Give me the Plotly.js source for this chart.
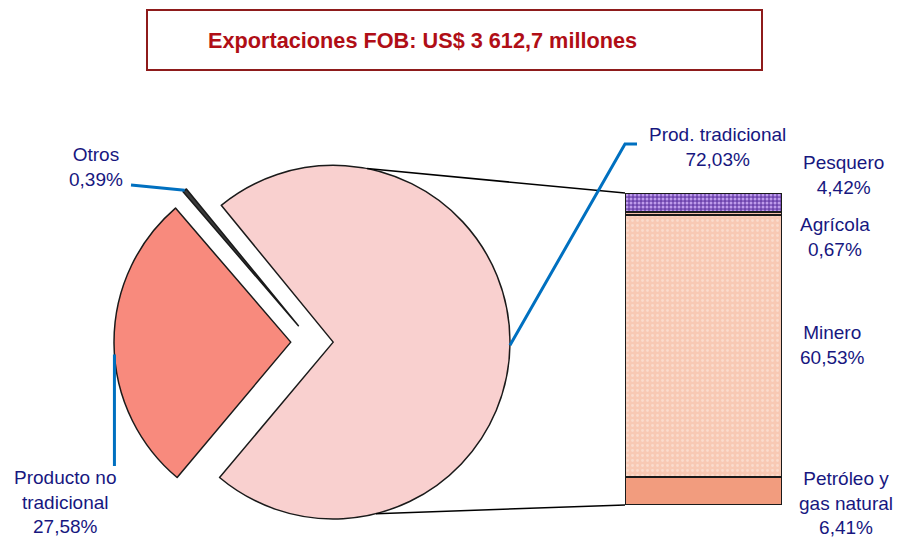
<!DOCTYPE html>
<html>
<head>
<meta charset="utf-8">
<script src="https://cdn.plot.ly/plotly-3.0.1.min.js"></script>
<style>
  html, body { margin: 0; padding: 0; background: #fff; }
  #grafico { width: 900px; height: 540px; }
</style>
</head>
<body>
<div id="grafico"></div>
<script>
const titulo = 'Exportaciones FOB: US$ 3 612,7 millones';
const pieNombres = ['Prod. tradicional', 'Producto no<br>tradicional', 'Otros'];
const pieValores = [72.03, 27.58, 0.39];
const barNombres = ['Petróleo y<br>gas natural', 'Minero', 'Agrícola', 'Pesquero'];
const barValores = [6.41, 60.53, 0.67, 4.42];

const W = 900, H = 540;
function px(x){ return Math.min(1, Math.max(0, x / W)); }
function py(y){ return Math.min(1, Math.max(0, 1 - y / H)); }
function pct(v){ return v.toFixed(2).replace('.', ',') + '%'; }

// geometria del pie (en px)
const cx = 312, cy = 342, semi = 198;
const pull = [0.12, 0.12, 0.12];
const rot = -39.3;
const maxPull = Math.max(...pull);
const r = semi / (1 + maxPull);
const total = pieValores.reduce((a, b) => a + b, 0);

let ang = rot;
const mid = [];
pieValores.forEach(v => { let a = v / total * 360; mid.push(ang + a / 2); ang += a; });
function centro(i){
    let a = mid[i] * Math.PI / 180;
    return [cx + pull[i] * r * Math.sin(a), cy - pull[i] * r * Math.cos(a)];
}
function borde(i, deg){
    let c = centro(i);
    let a = deg * Math.PI / 180;
    return [c[0] + r * Math.sin(a), c[1] - r * Math.cos(a)];
}

// barra (en px)
const bx0 = 625, bx1 = 782, byTop = 193, byBot = 505;
const barTotal = barValores.reduce((a, b) => a + b, 0);

const barColores = ['#F29C7E', '#F8C9B4', '#F6C0AA', '#6E44AE'];
const barPatrones = [
    {shape: ''},
    {shape: '.', fgcolor: '#FBDCCD', bgcolor: '#F8C9B4', size: 5, solidity: 0.25},
    {shape: ''},
    {shape: '.', fgcolor: '#BE9BEB', bgcolor: '#6E44AE', size: 4, solidity: 0.45}
];

const data = [{
    type: 'pie',
    labels: pieNombres,
    values: pieValores,
    sort: false,
    direction: 'clockwise',
    rotation: rot,
    pull: pull,
    textinfo: 'none',
    hoverinfo: 'label+percent',
    marker: {colors: ['#F9D0CF', '#F88A7D', '#3A3A3A'], line: {color: '#1a1a1a', width: 1.5}},
    domain: {x: [px(cx - semi), px(cx + semi)], y: [py(cy + semi), py(cy - semi)]},
    showlegend: false
}];

barValores.forEach((v, i) => {
    data.push({
        type: 'bar',
        x: [0],
        y: [v],
        name: barNombres[i],
        width: 1,
        marker: {color: barColores[i], line: {color: '#1a1a1a', width: 2}, pattern: barPatrones[i]},
        hoverinfo: 'name+y',
        showlegend: false
    });
});

// lineas de union pie -> barra
const pTop = borde(0, 11);
const pBot = borde(0, 166);
const azul = '#0070C0';
const pDer = borde(0, 91);
const pOtros = borde(2, mid[2]);
const pNoTrad = borde(1, 266);

function path(pts){
    return pts.map((p, k) => (k ? 'L' : 'M') + px(p[0]) + ',' + py(p[1])).join(' ');
}

const shapes = [
    {type: 'rect', xref: 'paper', yref: 'paper', x0: px(147), x1: px(762), y0: py(70), y1: py(10),
     line: {color: '#8E1B1B', width: 2}, fillcolor: 'rgba(0,0,0,0)'},
    {type: 'line', xref: 'paper', yref: 'paper', x0: px(pTop[0]), y0: py(pTop[1]), x1: px(bx0), y1: py(byTop),
     line: {color: '#000', width: 1.5}},
    {type: 'line', xref: 'paper', yref: 'paper', x0: px(pBot[0]), y0: py(pBot[1]), x1: px(bx0), y1: py(byBot),
     line: {color: '#000', width: 1.5}},
    {type: 'path', xref: 'paper', yref: 'paper', path: path([pDer, [625, 144], [637, 144]]),
     line: {color: azul, width: 3}},
    {type: 'path', xref: 'paper', yref: 'paper', path: path([pOtros, [131, 185]]),
     line: {color: azul, width: 3}},
    {type: 'path', xref: 'paper', yref: 'paper', path: path([pNoTrad, [pNoTrad[0], 466]]),
     line: {color: azul, width: 3}}
];

const fuente = {family: 'Liberation Sans, Arial, sans-serif', size: 19, color: '#17177F'};
function etiqueta(texto, x, y){
    return {text: texto, xref: 'paper', yref: 'paper', x: px(x), y: py(y),
            xanchor: 'center', yanchor: 'middle', showarrow: false, align: 'center', font: fuente};
}

const annotations = [
    {text: '<b>' + titulo + '</b>', xref: 'paper', yref: 'paper', x: px(206), y: py(40),
     xanchor: 'left', yanchor: 'middle', showarrow: false,
     font: {family: 'Liberation Sans, Arial, sans-serif', size: 21.7, color: '#B00E16'}},
    etiqueta(pieNombres[0] + '<br>' + pct(pieValores[0]), 717, 147),
    etiqueta(pieNombres[1] + '<br>' + pct(pieValores[1]), 65, 502),
    etiqueta(pieNombres[2] + '<br>' + pct(pieValores[2]), 96, 167),
    etiqueta(barNombres[3] + '<br>' + pct(barValores[3]), 843, 175),
    etiqueta(barNombres[2] + '<br>' + pct(barValores[2]), 835, 237),
    etiqueta(barNombres[1] + '<br>' + pct(barValores[1]), 832, 345),
    etiqueta(barNombres[0] + '<br>' + pct(barValores[0]), 846, 503)
];

const layout = {
    width: W,
    height: H,
    margin: {l: 0, r: 0, t: 0, b: 0},
    paper_bgcolor: '#fff',
    plot_bgcolor: 'rgba(0,0,0,0)',
    barmode: 'stack',
    showlegend: false,
    xaxis: {domain: [px(bx0), px(bx1)], range: [-0.5, 0.5], visible: false, fixedrange: true},
    yaxis: {domain: [py(byBot), py(byTop)], range: [0, barTotal], visible: false, fixedrange: true},
    shapes: shapes,
    annotations: annotations
};

Plotly.newPlot('grafico', data, layout, {displayModeBar: false, staticPlot: true});
</script>
</body>
</html>
